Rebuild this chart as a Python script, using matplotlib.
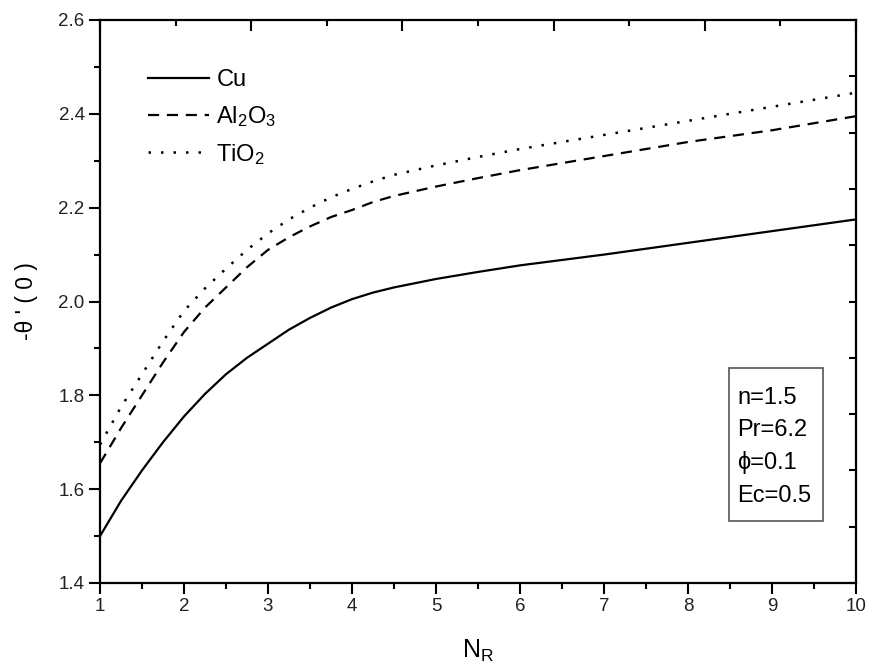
import matplotlib
matplotlib.use("Agg")
import matplotlib.pyplot as plt
from matplotlib.patches import Rectangle
from matplotlib.ticker import MultipleLocator, NullFormatter, FormatStrFormatter

plt.rcParams['font.family'] = ['Liberation Sans', 'DejaVu Sans']
plt.rcParams['mathtext.fontset'] = 'custom'
plt.rcParams['mathtext.rm'] = 'Liberation Sans'
plt.rcParams['mathtext.it'] = 'Liberation Sans:italic'

# Data
nr = [1, 1.25, 1.5, 1.75, 2, 2.25, 2.5, 2.75, 3, 3.25, 3.5, 3.75, 4, 4.25, 4.5, 5, 5.5, 6, 7, 8, 9, 10]
cu = [1.50, 1.575, 1.64, 1.70, 1.755, 1.803, 1.845, 1.88, 1.91, 1.94, 1.965, 1.987, 2.005, 2.019, 2.03, 2.048, 2.063, 2.077, 2.10, 2.125, 2.15, 2.175]
al2o3 = [1.655, 1.73, 1.80, 1.87, 1.935, 1.987, 2.03, 2.073, 2.11, 2.137, 2.16, 2.18, 2.195, 2.212, 2.225, 2.245, 2.263, 2.28, 2.31, 2.34, 2.365, 2.395]
tio2 = [1.695, 1.775, 1.845, 1.915, 1.98, 2.028, 2.07, 2.11, 2.145, 2.175, 2.20, 2.222, 2.24, 2.256, 2.27, 2.29, 2.308, 2.325, 2.355, 2.385, 2.415, 2.445]
series_labels = ['Cu', 'Al$_2$O$_3$', 'TiO$_2$']
param_lines = ['n=1.5', 'Pr=6.2', 'ϕ=0.1', 'Ec=0.5']

fig = plt.figure(figsize=(8.69, 6.72), dpi=100)
ax = fig.add_axes([100/869, (672-583)/672, 756/869, 563/672])

lw = 1.6
ax.plot(nr, cu, color='black', lw=lw, linestyle='-', label=series_labels[0])
ax.plot(nr, al2o3, color='black', lw=lw, linestyle=(0, (5, 3.5)), label=series_labels[1])
ax.plot(nr, tio2, color='black', lw=1.8, linestyle=(0, (1, 4)), label=series_labels[2])

ax.set_xlim(1, 10)
ax.set_ylim(1.4, 2.6)
ax.xaxis.set_major_locator(MultipleLocator(1))
ax.xaxis.set_minor_locator(MultipleLocator(0.5))
ax.yaxis.set_major_locator(MultipleLocator(0.2))
ax.yaxis.set_minor_locator(MultipleLocator(0.1))
ax.yaxis.set_major_formatter(FormatStrFormatter('%.1f'))

for s in ax.spines.values():
    s.set_linewidth(1.6)

ax.tick_params(axis='both', which='major', direction='out', length=8, width=1.5,
               labelsize=13.5, pad=3, top=False, right=False, labelcolor='#222222')
ax.tick_params(axis='both', which='minor', direction='out', length=4, width=1.5,
               top=False, right=False)

# Top axis ticks (inward)
axt = ax.twiny()
axt.set_xlim(0, 1)
axt.xaxis.set_major_locator(MultipleLocator(0.2))
axt.xaxis.set_minor_locator(MultipleLocator(0.1))
axt.xaxis.set_major_formatter(NullFormatter())
axt.tick_params(axis='x', which='major', direction='in', length=8, width=1.5)
axt.tick_params(axis='x', which='minor', direction='in', length=4, width=1.5)
for s in axt.spines.values():
    s.set_visible(False)

# Right axis ticks (inward)
axr = ax.twinx()
axr.set_ylim(0, 1)
axr.yaxis.set_major_locator(MultipleLocator(0.1))
axr.yaxis.set_major_formatter(NullFormatter())
axr.tick_params(axis='y', which='major', direction='in', length=5, width=1.5)
for s in axr.spines.values():
    s.set_visible(False)

ax.set_xlabel('N$_\\mathrm{R}$', fontsize=18, labelpad=16)
ax.set_ylabel("-θ ' ( 0 )", fontsize=16.5, labelpad=15)

leg = ax.legend(loc='upper left', bbox_to_anchor=(0.051, 0.93), frameon=False,
                fontsize=17, handlelength=2.6, handletextpad=0.3, labelspacing=0.55,
                borderaxespad=0)

# Parameter box
ax.add_patch(Rectangle((0.832, 0.110), 0.956-0.832, 0.381-0.110, transform=ax.transAxes,
                       fill=False, edgecolor='#555555', lw=1.2))
ys = [0.329, 0.2715, 0.2135, 0.155]
for t, y in zip(param_lines, ys):
    ax.text(0.8426, y, t, transform=ax.transAxes, fontsize=17, va='center', ha='left')

fig.savefig('out.png', dpi=100)
